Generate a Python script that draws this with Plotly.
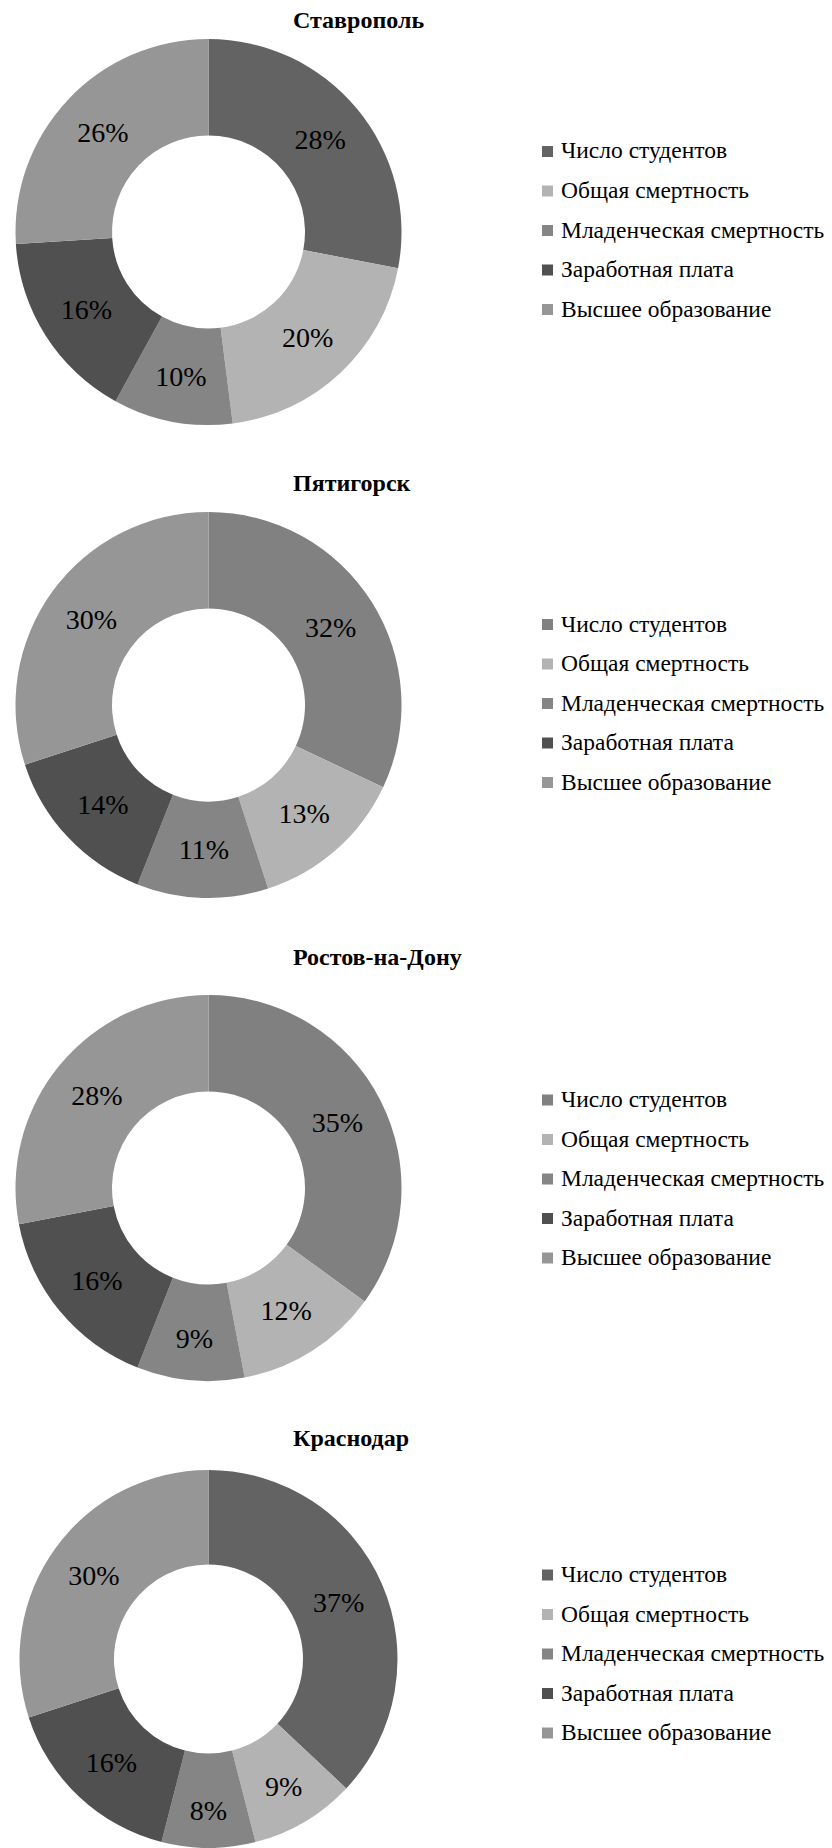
import plotly.graph_objects as go

W, H = 832, 1848

# ---- data -------------------------------------------------------------
indicators = [
    "Число студентов",
    "Общая смертность",
    "Младенческая смертность",
    "Заработная плата",
    "Высшее образование",
]
cities = ["Ставрополь", "Пятигорск", "Ростов-на-Дону", "Краснодар"]

stavropol = [28, 20, 10, 16, 26]
pyatigorsk = [32, 13, 11, 14, 30]
rostov = [35, 12, 9, 16, 28]
krasnodar = [37, 9, 8, 16, 30]

colors_stavropol = ["#636363", "#b3b3b3", "#858585", "#505050", "#969696"]
colors_pyatigorsk = ["#818181", "#b3b3b3", "#858585", "#505050", "#969696"]
colors_rostov = ["#808080", "#b3b3b3", "#858585", "#505050", "#969696"]
colors_krasnodar = ["#636363", "#b3b3b3", "#858585", "#505050", "#969696"]

series = [stavropol, pyatigorsk, rostov, krasnodar]
palettes = [colors_stavropol, colors_pyatigorsk, colors_rostov, colors_krasnodar]

# ---- layout (pixels) --------------------------------------------------
FONT = "Liberation Serif, Times New Roman, serif"
cx = 208.5
radii = [193, 193, 193, 189]
centers_y = [232, 705, 1188, 1659]
legend_y = [230.5, 703.5, 1179, 1654]
title_y = [20, 483, 957, 1438]
title_x = 291
row_gap = 39.5
sq_x0, sq_size = 542, 11
text_x = 559


def px(x):
    return x / W


def py(y):
    return 1 - y / H


fig = go.Figure()
annotations = []
shapes = []

for city, vals, cols, cy, r, ly, ty in zip(cities, series, palettes, centers_y, radii, legend_y, title_y):
    fig.add_trace(
        go.Pie(
            labels=indicators,
            values=vals,
            hole=0.5,
            sort=False,
            direction="clockwise",
            rotation=0,
            marker=dict(colors=cols, line=dict(width=0)),
            texttemplate="%{value}%",
            textposition="inside",
            insidetextorientation="horizontal",
            textfont=dict(family=FONT, size=28, color="#000000"),
            domain=dict(
                x=[px(cx - r), px(cx + r)],
                y=[max(0, py(cy + r)), min(1, py(cy - r))],
            ),
            showlegend=False,
            hoverinfo="label+percent",
            name=city,
        )
    )

    annotations.append(
        dict(
            text=f"<b>{city}</b>",
            x=px(title_x), y=py(ty),
            xref="paper", yref="paper",
            xanchor="left", yanchor="middle",
            showarrow=False,
            font=dict(family=FONT, size=24, color="#000000"),
        )
    )

    # legend entries for this chart
    n = len(indicators)
    for i, (name, col) in enumerate(zip(indicators, cols)):
        ry = ly + (i - (n - 1) / 2) * row_gap
        shapes.append(
            dict(
                type="rect", xref="paper", yref="paper",
                x0=px(sq_x0), x1=px(sq_x0 + sq_size),
                y0=py(ry - sq_size / 2), y1=py(ry + sq_size / 2),
                fillcolor=col, line=dict(width=0),
            )
        )
        annotations.append(
            dict(
                text=name,
                x=px(text_x), y=py(ry - 1),
                xref="paper", yref="paper",
                xanchor="left", yanchor="middle",
                showarrow=False,
                font=dict(family=FONT, size=23.5, color="#000000"),
            )
        )

fig.update_layout(
    width=W,
    height=H,
    margin=dict(l=0, r=0, t=0, b=0),
    paper_bgcolor="#ffffff",
    plot_bgcolor="#ffffff",
    annotations=annotations,
    shapes=shapes,
)

fig.write_html("out.html")
